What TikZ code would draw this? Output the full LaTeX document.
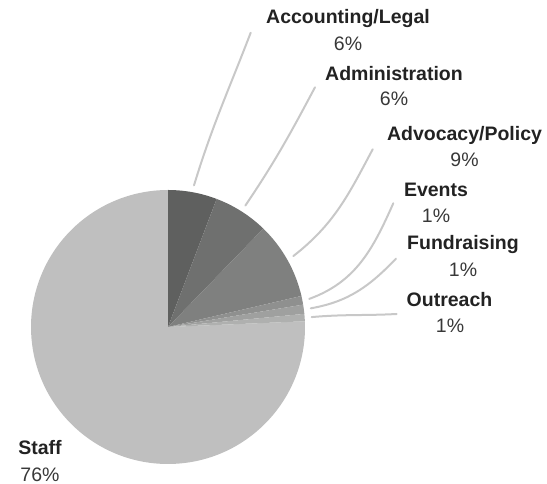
\documentclass[tikz,border=0pt]{standalone}
\usepackage{fontspec}
\setmainfont{Liberation Sans}
\usetikzlibrary{calc}
\definecolor{cAcc}{HTML}{5F605F}
\definecolor{cAdm}{HTML}{6F706F}
\definecolor{cAdv}{HTML}{7F807F}
\definecolor{cEvt}{HTML}{8F908F}
\definecolor{cFun}{HTML}{9FA09F}
\definecolor{cOut}{HTML}{AFB0AF}
\definecolor{cSta}{HTML}{BFBFBF}
\definecolor{cLead}{HTML}{C8C8C8}
\definecolor{cText}{HTML}{222222}
\begin{document}
\begin{tikzpicture}[x=1pt,y=1pt,
  ttl/.style={inner sep=0pt,anchor=base,text=cText,font=\fontsize{19.5}{23}\selectfont\bfseries},
  pct/.style={inner sep=0pt,anchor=base,text=cText!90!white,font=\fontsize{19.5}{23}\selectfont},
  leader/.style={draw=cLead,line width=2pt,line cap=round}]
\useasboundingbox (0,0) rectangle (547,484);
\coordinate (C) at (168,157);
\def\R{137pt}
% slices
\fill[cSta] (C) -- ++(2.4:\R) arc[start angle=2.4,end angle=-270,radius=\R] -- cycle;
\fill[cAcc] (C) -- ++(90:\R) arc[start angle=90,end angle=69.2,radius=\R] -- cycle;
\fill[cAdm] (C) -- ++(69.2:\R) arc[start angle=69.2,end angle=45.9,radius=\R] -- cycle;
\fill[cAdv] (C) -- ++(45.9:\R) arc[start angle=45.9,end angle=13.1,radius=\R] -- cycle;
\fill[cEvt] (C) -- ++(13.1:\R) arc[start angle=13.1,end angle=9.4,radius=\R] -- cycle;
\fill[cFun] (C) -- ++(9.4:\R) arc[start angle=9.4,end angle=5.5,radius=\R] -- cycle;
\fill[cOut] (C) -- ++(5.5:\R) arc[start angle=5.5,end angle=2.4,radius=\R] -- cycle;
% labels
\node[ttl] (accT) at (348,460) {Accounting/Legal};
\node[pct] (accP) at (348,433.3) {6\%};
\node[ttl] (admT) at (394,403) {Administration};
\node[pct] (admP) at (394,378) {6\%};
\node[ttl] (advT) at (464.5,343.3) {Advocacy/Policy};
\node[pct] (advP) at (464.5,317.3) {9\%};
\node[ttl] (evtT) at (436,287.3) {Events};
\node[pct] (evtP) at (436,261.7) {1\%};
\node[ttl] (funT) at (463,234) {Fundraising};
\node[pct] (funP) at (463,207.3) {1\%};
\node[ttl] (outT) at (449.5,177.7) {Outreach};
\node[pct] (outP) at (450,151.7) {1\%};
\node[ttl] (staT) at (40,29) {Staff};
\node[pct] (staP) at (40,2.8) {76\%};
% leader coordinates
\coordinate (accS) at ($(C)+(79.6:144pt)$);
\coordinate (admS) at ($(C)+(57.5:144pt)$);
\coordinate (advS) at ($(C)+(29.5:144pt)$);
\coordinate (evtS) at ($(C)+(11.25:144pt)$);
\coordinate (funS) at ($(C)+(7.45:144pt)$);
\coordinate (outS) at ($(C)+(3.95:144pt)$);
\coordinate (accE) at (250.7,451.3);
\coordinate (admE) at (315,396.7);
\coordinate (advE) at (372.7,334.7);
\coordinate (evtE) at (393.3,280.7);
\coordinate (funE) at (396,225.3);
\coordinate (outE) at (396.7,170);
\draw[leader] (accS) to[out=73,in=249] (accE);
\draw[leader] (admS) to[out=56,in=242] (admE);
\draw[leader] (advS) to[out=38,in=242] (advE);
\draw[leader] (evtS) to[out=20,in=246] (evtE);
\draw[leader] (funS) to[out=10,in=226] (funE);
\draw[leader] (outS) to[out=5,in=183] (outE);
\end{tikzpicture}
\end{document}
